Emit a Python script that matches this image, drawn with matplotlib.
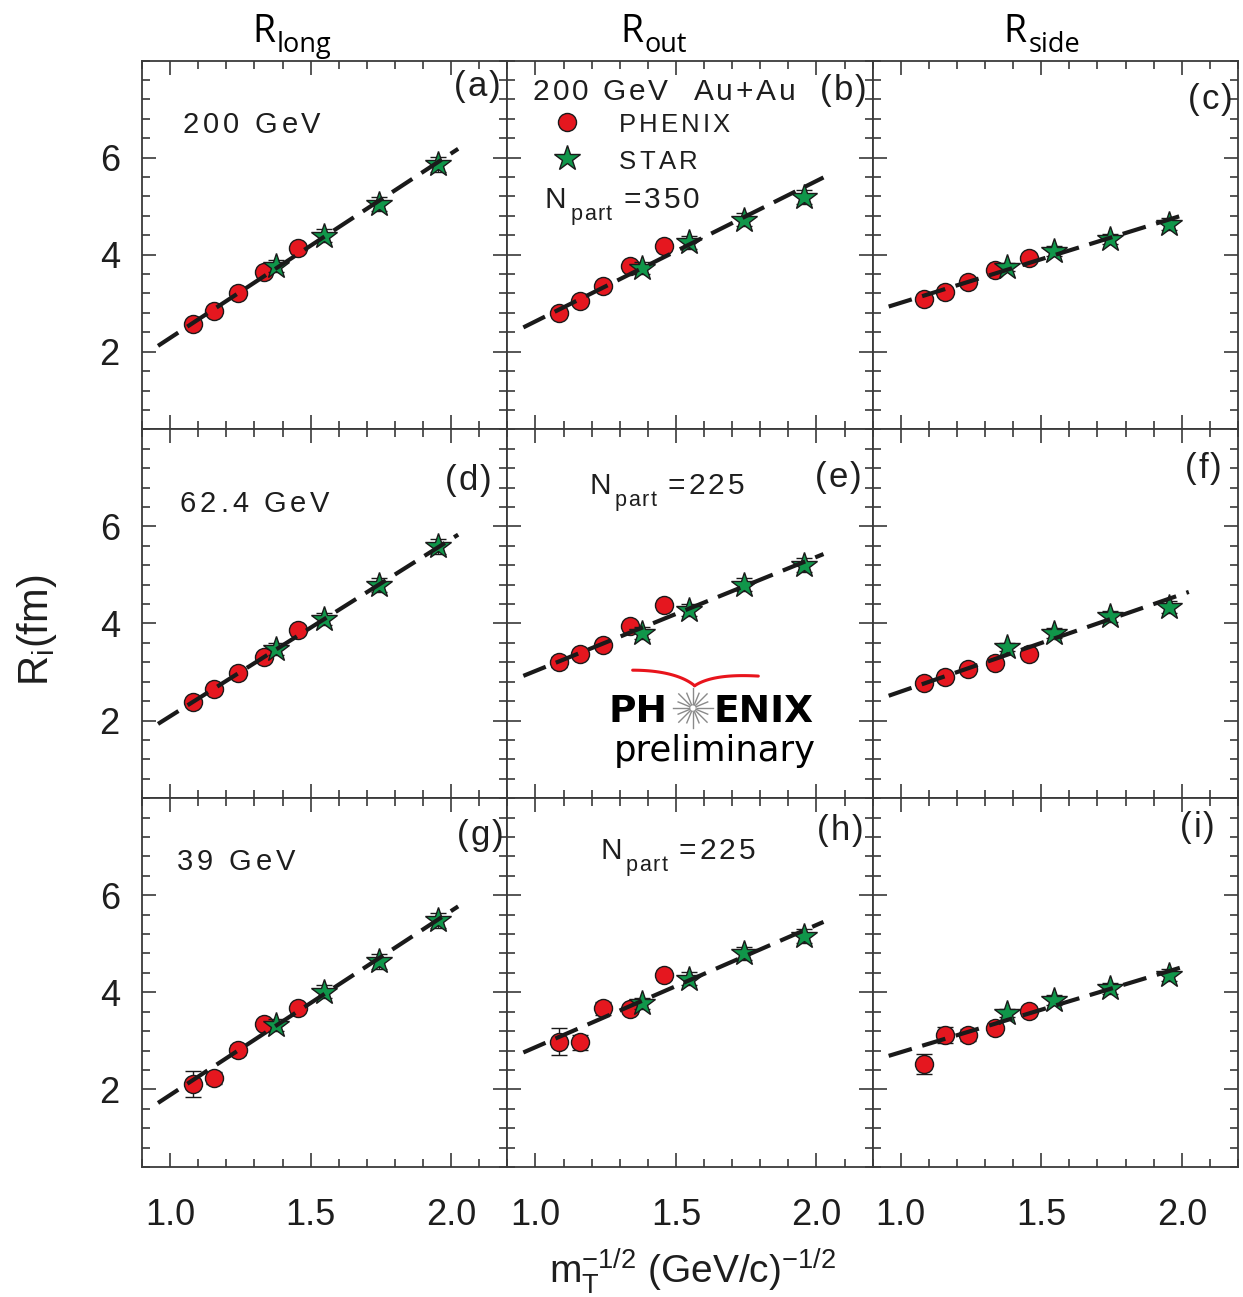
import numpy as np
import matplotlib
matplotlib.use("Agg")
import matplotlib.pyplot as plt
from matplotlib.ticker import MultipleLocator, FixedLocator, NullFormatter
from matplotlib.transforms import offset_copy
from matplotlib.patches import Circle
from matplotlib import font_manager as fm
from matplotlib.ft2font import FT2Font

# ---------------------------------------------------------------- data
# m_T^{-1/2} positions of the two data sets
phenix_x = [1.083, 1.157, 1.240, 1.335, 1.456]
star_x = [1.378, 1.546, 1.743, 1.955]

# HBT radii (fm): rows = energy (200, 62.4, 39 GeV), columns = long/out/side
phenix_long_200 = [2.57, 2.84, 3.21, 3.65, 4.13]
phenix_out_200 = [2.80, 3.05, 3.36, 3.76, 4.18]
phenix_side_200 = [3.08, 3.23, 3.44, 3.69, 3.93]
star_long_200 = [3.76, 4.39, 5.04, 5.86]
star_out_200 = [3.72, 4.25, 4.72, 5.19]
star_side_200 = [3.74, 4.08, 4.32, 4.63]

phenix_long_62 = [2.38, 2.65, 2.98, 3.31, 3.87]
phenix_out_62 = [3.21, 3.37, 3.55, 3.94, 4.38]
phenix_side_62 = [2.77, 2.89, 3.07, 3.18, 3.38]
star_long_62 = [3.47, 4.09, 4.79, 5.59]
star_out_62 = [3.81, 4.28, 4.80, 5.20]
star_side_62 = [3.51, 3.81, 4.15, 4.34]

phenix_long_39 = [2.11, 2.23, 2.81, 3.34, 3.67]
phenix_out_39 = [2.98, 2.97, 3.67, 3.65, 4.35]
phenix_side_39 = [2.52, 3.12, 3.12, 3.27, 3.62]
star_long_39 = [3.32, 4.01, 4.64, 5.48]
star_out_39 = [3.77, 4.28, 4.80, 5.16]
star_side_39 = [3.57, 3.84, 4.08, 4.35]

# uncertainties
phenix_err_200 = [[0.06] * 5, [0.06] * 5, [0.06] * 5]
phenix_err_62 = [[0.07] * 5, [0.10, 0.06, 0.06, 0.06, 0.06], [0.06] * 5]
phenix_err_39 = [[0.27, 0.13, 0.10, 0.07, 0.07],
                 [0.28, 0.16, 0.14, 0.08, 0.08],
                 [0.20, 0.17, 0.12, 0.08, 0.08]]
star_err = [[0.12, 0.13, 0.15, 0.16],
            [0.12, 0.13, 0.14, 0.15],
            [0.08, 0.10, 0.11, 0.12]]

# linear fits: end points of the dashed line
fit_x = [0.957, 2.025]
fit_200 = [[2.12, 6.18], [2.50, 5.59], [2.93, 4.85]]
fit_62 = [[1.93, 5.83], [2.92, 5.43], [2.51, 4.65]]
fit_39 = [[1.72, 5.77], [2.76, 5.45], [2.69, 4.56]]

column_titles = ["long", "out", "side"]
energy_labels = ["200 GeV", "62.4 GeV", "39 GeV"]
panel_tags = ["(a)", "(b)", "(c)", "(d)", "(e)", "(f)", "(g)", "(h)", "(i)"]
x_ticklabels = ["1.0", "1.5", "2.0"]
y_ticklabels = ["2", "4", "6"]

phenix_rows = [[phenix_long_200, phenix_out_200, phenix_side_200],
               [phenix_long_62, phenix_out_62, phenix_side_62],
               [phenix_long_39, phenix_out_39, phenix_side_39]]
star_rows = [[star_long_200, star_out_200, star_side_200],
             [star_long_62, star_out_62, star_side_62],
             [star_long_39, star_out_39, star_side_39]]
phenix_err_rows = [phenix_err_200, phenix_err_62, phenix_err_39]
fit_rows = [fit_200, fit_62, fit_39]

# ---------------------------------------------------------------- style
TXT = "#1e1e1e"
RED = "#e5171f"
GREEN = "#10964a"
SANS = "Liberation Sans"
CIRCLE_MS = 13
STAR_MS = 19

plt.rcParams["font.family"] = [SANS, "DejaVu Sans"]
plt.rcParams["mathtext.fontset"] = "custom"
plt.rcParams["mathtext.rm"] = SANS
plt.rcParams["mathtext.it"] = SANS + ":italic"
plt.rcParams["mathtext.bf"] = SANS + ":bold"

DPI = 100
fig = plt.figure(figsize=(12.43, 12.97), dpi=DPI)

L, Rg = 142 / 1243, 1238 / 1243
T, B = 1 - 60.5 / 1297, 1 - 1167 / 1297
W, H = (Rg - L) / 3, (T - B) / 3
AX_W_PX = W * 1243

_font_paths = {}


def advances(s, size, family, weight):
    key = (family, weight)
    if key not in _font_paths:
        _font_paths[key] = fm.findfont(fm.FontProperties(family=family, weight=weight))
    f = FT2Font(_font_paths[key])
    f.set_size(size, DPI)
    return [f.load_char(ord(c)).linearHoriAdvance / 65536.0 for c in s]


def tracked(ax, fx, fy, s, size, track=3.0, family=SANS, weight="normal",
            color=TXT, x0=0.0):
    """Write text letter by letter with extra spacing (in pixels)."""
    adv = advances(s, size, family, weight)
    dx = x0
    for ch, a in zip(s, adv):
        if ch != " ":
            tr = offset_copy(ax.transAxes, fig=fig, x=dx, y=0, units="dots")
            ax.text(fx, fy, ch, transform=tr, fontsize=size, family=family,
                    weight=weight, color=color, ha="left", va="baseline")
        dx += a + track
    return dx


def npart(ax, fx, fy, sub_fy, value):
    w = tracked(ax, fx, fy, "N", 21.5, track=0)
    dx = tracked(ax, fx, sub_fy, "part", 15.5, track=1.5, x0=w + 4)
    tracked(ax, fx, fy, value, 21.5, track=3, x0=dx + 10)


tag_pos = [(0.854, 0.904), (0.856, 0.893), (0.864, 0.8685),
           (0.829, 0.836), (0.842, 0.845), (0.855, 0.869),
           (0.861, 0.873), (0.847, 0.887), (0.841, 0.894)]
energy_pos = [(0.112, 0.803), (0.104, 0.777), (0.096, 0.805)]

axes = []
for i in range(3):
    row = []
    for j in range(3):
        ax = fig.add_axes([L + j * W, T - (i + 1) * H, W, H])
        row.append(ax)
        ax.set_xlim(0.9, 2.2)
        ax.set_ylim(0.4, 8.0)
        ax.xaxis.set_major_locator(FixedLocator([1.0, 1.5, 2.0]))
        ax.xaxis.set_minor_locator(MultipleLocator(0.1))
        ax.yaxis.set_major_locator(FixedLocator([2, 4, 6]))
        ax.yaxis.set_minor_locator(MultipleLocator(0.4))
        ax.tick_params(which="both", direction="in", top=True, right=True,
                       color="#3a3a3a", width=1.2, labelsize=26,
                       labelcolor=TXT)
        ax.tick_params(which="major", length=10)
        ax.tick_params(which="minor", length=6)
        ax.tick_params(axis="x", pad=22)
        ax.tick_params(axis="y", pad=16)
        for sp in ax.spines.values():
            sp.set_color("#3a3a3a")
            sp.set_linewidth(1.3)
        if i == 2:
            ax.set_xticklabels(x_ticklabels)
        else:
            ax.xaxis.set_major_formatter(NullFormatter())
        if j == 0:
            ax.set_yticklabels(y_ticklabels)
        else:
            ax.yaxis.set_major_formatter(NullFormatter())

        # PHENIX points
        ax.errorbar(phenix_x, phenix_rows[i][j], yerr=phenix_err_rows[i][j],
                    fmt="o", ms=CIRCLE_MS, mfc=RED, mec="#1a1a1a", mew=1.0,
                    ecolor="#1a1a1a", elinewidth=1.0, capsize=5.5,
                    capthick=1.0, zorder=3)
        # STAR points
        ax.errorbar(star_x, star_rows[i][j], yerr=star_err[j],
                    fmt="*", ms=STAR_MS, mfc=GREEN, mec="#1a1a1a", mew=1.0,
                    ecolor="#1a1a1a", elinewidth=1.0, capsize=5.5,
                    capthick=1.0, zorder=4)
        # linear fit
        ax.plot(fit_x, fit_rows[i][j], ls=(0, (5.8, 2.6)), lw=3.0,
                color="#1a1a1a", zorder=6, dash_capstyle="butt")

        tx, ty = tag_pos[3 * i + j]
        tracked(ax, tx, ty, panel_tags[3 * i + j], 25, track=2)
    axes.append(row)

# energy labels in the first column
for i in range(3):
    ex, ey = energy_pos[i]
    tracked(axes[i][0], ex, ey, energy_labels[i], 21, track=3.8)

# legend block in panel (b)
axb = axes[0][1]
tracked(axb, 0.070, 0.893, "200 GeV  Au+Au", 21.5, track=2.9)
axb.plot([0.163], [0.833], "o", ms=CIRCLE_MS, mfc=RED, mec="#1a1a1a",
         mew=1.0, transform=axb.transAxes)
tracked(axb, 0.306, 0.807, "PHENIX", 18.5, track=3)
axb.plot([0.163], [0.736], "*", ms=STAR_MS, mfc=GREEN, mec="#1a1a1a",
         mew=1.0, transform=axb.transAxes)
tracked(axb, 0.306, 0.706, "STAR", 18.5, track=3.3)
npart(axb, 0.103, 0.599, 0.567, "=350")
npart(axes[1][1], 0.224, 0.8246, 0.793, "=225")
npart(axes[2][1], 0.254, 0.834, 0.802, "=225")

# PHENIX preliminary logo in panel (e)
axe = axes[1][1]
axe.text(0.439, 0.206, "PH", transform=axe.transAxes, ha="right",
         va="baseline", family="DejaVu Sans", weight="bold", fontsize=27,
         color="black")
axe.text(0.563, 0.206, "ENIX", transform=axe.transAxes, ha="left",
         va="baseline", family="DejaVu Sans", weight="bold", fontsize=27,
         color="black")
axe.text(0.568, 0.1006, "preliminary", transform=axe.transAxes, ha="center",
         va="baseline", family="DejaVu Sans", fontsize=25.5, color="black")
pw, ph = 365.3, 368.8
cx, cy = 0.508, 0.2443
for k in range(16):
    ang = np.pi / 2 + k * np.pi / 8
    r0, r1 = 4.0, (20.0 if k % 2 == 0 else 16.0)
    axe.plot([cx + r0 * np.cos(ang) / pw, cx + r1 * np.cos(ang) / pw],
             [cy + r0 * np.sin(ang) / ph, cy + r1 * np.sin(ang) / ph],
             color="#8a8a8a", lw=1.0, transform=axe.transAxes)
axe.add_patch(Circle((cx, cy), 3.2 / pw, transform=axe.transAxes,
                     fill=False, ec="#9a9a9a", lw=0.8))


def bezier(p0, p1, p2, p3, n=40):
    t = np.linspace(0, 1, n)[:, None]
    p0, p1, p2, p3 = map(np.asarray, (p0, p1, p2, p3))
    return ((1 - t) ** 3 * p0 + 3 * (1 - t) ** 2 * t * p1
            + 3 * (1 - t) * t ** 2 * p2 + t ** 3 * p3)


v = (0.5127, 0.3048)
left_arm = bezier((0.343, 0.347), (0.42, 0.347), (0.48, 0.332), v)
right_arm = bezier(v, (0.545, 0.326), (0.60, 0.336), (0.687, 0.331))
for arm, lw in ((left_arm, 2.2), (right_arm, 2.2)):
    axe.plot(arm[:, 0], arm[:, 1], color="#e8141c", lw=lw,
             transform=axe.transAxes, solid_capstyle="round")

# column titles
title_x = [252, 620, 1003]
sub_dx = [25, 25, 26]
for j in range(3):
    fig.text(title_x[j] / 1243, 1 - 42 / 1297, "R", fontsize=27,
             family=["Open Sans", SANS], color="black", ha="left", va="baseline")
    fig.text((title_x[j] + sub_dx[j]) / 1243, 1 - 52 / 1297, column_titles[j],
             fontsize=19.5, family=["Open Sans", SANS], color="black",
             ha="left", va="baseline")

# axis labels
fig.text(0.030, 0.514, r"R$_{\rm i}$(fm)", rotation=90, ha="center",
         va="center", fontsize=30, color=TXT)
fig.text(0.557, 0.0108, r"m$_{\rm T}^{\rm {-}1/2}$ (GeV/c)$^{\rm {-}1/2}$",
         ha="center", va="baseline", fontsize=28, color=TXT)

fig.savefig("out.png", dpi=DPI, facecolor="white")
